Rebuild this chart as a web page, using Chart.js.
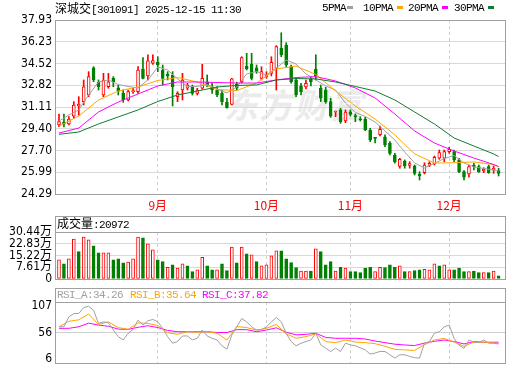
<!DOCTYPE html>
<html>
<head>
<meta charset="utf-8">
<title>深城交 301091</title>
<script src="https://cdn.jsdelivr.net/npm/chart.js@4.4.1/dist/chart.umd.min.js"></script>
<style>
  html, body { margin: 0; padding: 0; background: #fff; }
  #wrap { position: relative; width: 520px; height: 365px; overflow: hidden; }
  canvas { position: absolute; left: 0; }
  .txt { position: absolute; white-space: nowrap; font-family: "Liberation Mono", monospace; font-size: 11px;
         letter-spacing: -0.6px; line-height: 14px; color: #000; }
  .txt b { font-weight: normal; font-family: "Noto Sans CJK SC", sans-serif; font-size: 12px; letter-spacing: 0; }
  .mk { position: absolute; width: 6px; height: 3px; }
  #wm { position: absolute; left: 224px; top: 84px; font-family: "Noto Sans CJK SC", sans-serif; font-size: 34px;
        line-height: 40px; font-weight: bold; font-style: italic; color: #ebebeb; letter-spacing: 1px; }
</style>
</head>
<body>
<div id="wrap">
  <div id="wm">东方财富</div>
  <canvas id="kline" width="520" height="215" style="top:0"></canvas>
  <canvas id="vol" width="520" height="70" style="top:214px"></canvas>
  <canvas id="rsi" width="520" height="78" style="top:287px"></canvas>

  <div class="txt" style="left:55px;top:1px"><b>深城交</b>[301091] 2025-12-15 11:30</div>
  <div class="txt" style="left:322px;top:1px">5PMA</div><div class="mk" style="left:347px;top:6px;background:#a0a0a0"></div>
  <div class="txt" style="left:363px;top:1px">10PMA</div><div class="mk" style="left:397px;top:6px;background:#ffa500"></div>
  <div class="txt" style="left:408px;top:1px">20PMA</div><div class="mk" style="left:442px;top:6px;background:#ff00ff"></div>
  <div class="txt" style="left:454px;top:1px">30PMA</div><div class="mk" style="left:488px;top:6px;background:#127a33"></div>

  <div class="txt" style="left:57px;top:216px"><b>成交量</b>:20972</div>
  <div class="txt" style="left:57px;top:288px;color:#a0a0a0">RSI_A:34.26</div>
  <div class="txt" style="left:130px;top:288px;color:#ffa500">RSI_B:35.64</div>
  <div class="txt" style="left:202px;top:288px;color:#ff00ff">RSI_C:37.82</div>
</div>

<script>
// daily candles, 2025-08-04 .. 2025-12-15
const open = [29.70, 29.93, 29.78, 30.40, 31.19, 31.53, 32.05, 34.19, 33.05, 32.05,
              32.70, 33.36, 32.62, 32.18, 31.66, 32.31, 32.31, 34.09, 33.54, 34.55,
              34.64, 34.01, 33.67, 33.62, 31.92, 32.44, 32.58, 32.70, 32.18, 32.58,
              33.09, 32.70, 32.44, 32.18, 31.48, 31.32, 32.89, 33.09, 34.32, 34.46,
              34.19, 33.36, 33.49, 33.75, 34.14, 35.71, 35.97, 34.27, 33.23, 32.76,
              32.68, 33.28, 34.07, 32.58, 32.44, 31.53, 30.72, 30.88, 30.01, 30.74,
              30.44, 30.19, 30.17, 29.31, 28.74, 28.95, 28.78, 28.29, 27.35, 26.46,
              26.88, 26.54, 26.49, 25.86, 25.96, 26.54, 26.64, 27.09, 27.09, 27.61,
              27.61, 26.96, 26.04, 25.86, 26.54, 26.43, 26.09, 26.43, 26.17, 26.12];
const high = [30.56, 30.56, 30.35, 31.53, 31.92, 33.23, 33.88, 34.27, 33.23, 33.75,
              33.75, 33.49, 32.83, 32.44, 32.44, 32.58, 34.27, 34.98, 35.19, 35.19,
              35.05, 34.40, 33.88, 33.88, 32.31, 33.75, 32.97, 32.83, 32.58, 34.46,
              33.62, 32.97, 32.70, 32.44, 31.79, 33.36, 33.05, 35.05, 35.32, 35.32,
              34.40, 34.27, 33.88, 35.05, 35.92, 36.93, 36.15, 34.40, 33.36, 32.97,
              33.23, 33.49, 35.19, 32.83, 32.65, 31.79, 30.80, 31.01, 30.88, 30.88,
              30.56, 30.35, 30.30, 29.44, 28.74, 29.62, 28.92, 28.39, 27.48, 27.09,
              26.96, 26.82, 26.56, 26.04, 26.74, 26.82, 27.27, 27.74, 27.74, 27.95,
              27.74, 27.09, 26.12, 26.56, 26.70, 26.56, 26.35, 26.56, 26.49, 26.31];
const low = [29.57, 29.54, 29.70, 30.22, 30.48, 31.27, 31.92, 33.09, 32.44, 31.92,
             32.58, 32.70, 32.05, 31.48, 31.58, 32.18, 32.18, 33.31, 33.23, 34.45,
             33.88, 32.83, 33.23, 31.19, 31.53, 31.66, 32.44, 32.05, 32.05, 32.50,
             32.70, 32.18, 31.92, 31.27, 31.01, 31.27, 32.44, 33.00, 34.01, 33.23,
             33.75, 33.23, 33.36, 33.54, 32.44, 35.05, 34.27, 32.97, 31.92, 32.05,
             32.52, 32.76, 33.23, 31.53, 31.40, 30.30, 30.35, 29.83, 29.88, 30.40,
             29.96, 30.01, 29.25, 28.39, 28.29, 28.84, 28.00, 27.35, 26.70, 26.31,
             26.31, 26.31, 25.78, 25.39, 25.86, 26.43, 26.56, 27.01, 26.82, 27.48,
             26.82, 25.96, 25.39, 25.60, 26.17, 25.98, 25.96, 25.91, 25.91, 25.70];
const close = [29.96, 29.78, 30.17, 31.27, 31.32, 32.70, 33.49, 33.23, 32.70, 33.23,
               33.09, 33.09, 32.36, 31.66, 32.31, 32.39, 34.01, 33.36, 34.72, 34.74,
               34.40, 33.36, 33.54, 32.70, 32.18, 33.23, 32.83, 32.18, 32.44, 33.36,
               32.83, 32.44, 32.05, 31.53, 31.06, 33.31, 32.58, 34.98, 34.09, 33.36,
               33.88, 33.88, 33.62, 34.61, 35.84, 35.19, 34.40, 33.09, 32.05, 32.31,
               32.97, 33.09, 33.54, 31.83, 31.53, 30.40, 30.78, 29.96, 30.72, 30.52,
               30.33, 30.11, 29.33, 28.52, 28.64, 29.35, 28.13, 27.48, 26.80, 27.01,
               26.49, 26.68, 25.91, 25.70, 26.56, 26.70, 27.17, 27.53, 27.61, 27.79,
               26.96, 26.04, 25.60, 26.43, 26.43, 26.04, 26.25, 25.96, 26.31, 25.91];

// volume in 万, and whether the bar is drawn as an up (red) bar
const vol = [12.4, 9.8, 13.0, 25.9, 17.8, 27.2, 25.4, 21.5, 16.9, 16.9,
             16.9, 12.4, 13.0, 10.4, 10.9, 13.0, 27.2, 26.7, 22.8, 18.9,
             12.4, 11.3, 7.6, 9.1, 7.0, 9.8, 8.5, 4.8, 5.9, 14.1,
             8.5, 5.9, 5.9, 9.8, 5.4, 20.6, 10.4, 20.6, 16.3, 15.6,
             11.3, 8.5, 9.1, 15.0, 18.3, 18.3, 13.0, 10.6, 7.4, 5.2,
             5.2, 5.2, 19.6, 17.8, 9.1, 11.3, 5.2, 7.6, 7.0, 4.8,
             4.8, 4.1, 7.0, 7.6, 4.8, 7.6, 7.4, 9.1, 7.6, 8.5,
             4.8, 4.8, 5.4, 5.9, 6.3, 5.9, 9.8, 8.5, 9.1, 5.9,
             5.9, 7.0, 4.8, 4.8, 5.2, 4.1, 4.1, 4.1, 5.2, 2.0];
const volUp = [1,0,1,1,0,1,1,0,0,1, 1,0,0,0,1,1,1,0,1,1, 0,0,1,0,1,1,0,0,1,1,
               0,0,1,0,0,1,0,1,0,1, 0,1,1,1,1,0,0,0,0,1, 1,0,1,0,0,0,1,0,1,0,
               0,0,0,0,1,1,0,0,0,1, 0,1,0,0,1,1,1,0,1,1, 0,0,0,1,0,0,1,0,1,0];

// moving averages, read at these candle indices
const idx2 = [0,2,4,6,8,10,12,14,16,18,20,22,24,26,28,30,32,34,36,38,40,42,44,
              46,48,50,52,54,56,58,60,62,64,66,68,70,72,74,76,78,80,82,84,86,88,89];
const idx4 = [0,4,8,12,16,20,24,28,32,36,40,44,48,52,56,60,64,68,72,76,80,84,88,89];
const ma5 = [30.01, 30.48, 30.88, 32.05, 33.07, 33.23, 32.87, 32.72, 32.60, 33.23, 34.25, 34.01,
             33.31, 32.72, 32.72, 32.87, 32.52, 32.21, 32.68, 33.70, 33.89, 33.62, 34.17, 34.79,
             34.48, 33.70, 33.23, 32.76, 32.44, 31.42, 30.68, 30.37, 29.93, 29.23, 28.52, 27.58,
             26.72, 26.33, 26.68, 27.07, 27.31, 26.72, 26.41, 26.29, 26.17, 26.09];
const ma10 = [29.62, 30.40, 31.66, 32.36, 32.68, 33.19, 33.42, 33.07, 32.48, 32.40, 32.99, 34.09,
              34.32, 33.66, 32.36, 31.19, 30.17, 28.92, 27.43, 26.72, 26.74, 26.80, 26.60, 26.41];
const ma20 = [29.07, 29.46, 30.72, 31.50, 32.13, 32.76, 33.07, 33.07, 33.03, 32.99, 32.99, 33.23,
              33.42, 33.49, 33.15, 32.60, 31.82, 30.56, 29.23, 28.29, 27.66, 27.11, 26.60, 26.45];
const ma30 = [28.97, 29.15, 29.78, 30.33, 30.88, 31.54, 32.05, 32.36, 32.68, 32.80, 32.84, 33.23,
              33.34, 33.31, 33.07, 32.72, 32.36, 31.66, 30.72, 29.78, 28.68, 28.05, 27.43, 27.23];

// RSI: A for every candle, B and C at idx2
const rsiA = [67.5, 67.5, 86.6, 93, 93, 104.5, 107, 99.4, 74, 77,
              75.2, 61.3, 48.5, 42.2, 55, 62.6, 80.3, 70.8, 79, 81.6,
              77, 64.5, 48.5, 35.9, 39, 49.8, 49.8, 42.2, 45.4, 61.3,
              49.8, 45.4, 42.2, 30.8, 24.5, 51.7, 67.5, 83.5, 77, 67.5,
              61.3, 62, 67.5, 77, 85.4, 77, 55, 39, 30.8, 35.9,
              39, 42.2, 55, 32.7, 26.4, 19.9, 26.4, 19.9, 35.9, 32.7,
              31, 27, 23.1, 15, 16.9, 20, 20, 13.6, 7.3, 13.6,
              13.6, 10.4, 8, 7.3, 35.9, 39, 55, 58, 67.5, 70.8,
              45, 32, 26, 42, 38, 37, 42, 36, 35.9, 34.26];
const rsiB = [67.5, 78, 81, 92, 72, 77, 66, 62.6, 75, 74, 70, 56, 53, 58, 57, 58, 55, 42, 68, 66, 61, 64.5, 72,
              54, 45.4, 48.5, 54, 39, 37, 42, 38, 37, 35, 30, 24, 23, 22, 33, 42, 45, 38, 30, 38, 38, 36, 35.64];
const rsiC = [64.5, 64.5, 67.5, 74.5, 70.8, 68.5, 63, 62.5, 66.5, 69.5, 66, 60.5, 58, 58, 58, 58, 56.5, 56.5, 62, 62, 58, 61.3, 65.5,
              57, 52, 53, 55, 47, 45.4, 45.4, 45.4, 44, 40, 37, 34, 32.5, 31.4, 36, 39.5, 42, 39, 34.5, 39, 37.7, 37.8, 37.82];

const monthIdx = [20, 42, 59, 79];
const monthLabels = ["9月", "10月", "11月", "12月"];
const priceTicks = [24.29, 25.99, 27.70, 29.40, 31.11, 32.82, 34.52, 36.23, 37.93];
const volTicks = [0, 7.61, 15.22, 22.83, 30.44];
const rsiTicks = [6, 56, 107];

const RED = "#ff0000", GREEN = "#008000";
const C5 = "#a0a0a0", C10 = "#ffa500", C20 = "#ff00ff", C30 = "#127a33";
const labelFont = { family: '"DejaVu Sans Condensed", "Liberation Sans", "Noto Sans CJK SC", sans-serif', size: 12 };

const up = i => close[i] >= open[i];
const pts = (xs, ys) => xs.map((x, k) => ({ x: x, y: ys[k] }));
const line = (data, color) => ({
    type: "line", data: data, borderColor: color, borderWidth: 1,
    pointRadius: 0, tension: 0, fill: false, order: 0
});

// outline of the plot area (and the header strip above it)
const frame = {
    id: "frame",
    afterDraw(chart, args, opts) {
        const { ctx, chartArea: a } = chart;
        const p = v => Math.round(v) + 0.5;
        const top = opts.headerTop != null ? opts.headerTop : a.top;
        ctx.save();
        ctx.strokeStyle = "#a0a0a0";
        ctx.lineWidth = 1;
        ctx.strokeRect(p(a.left), p(top), p(a.right) - p(a.left), p(a.bottom) - p(top));
        if (opts.headerTop != null) {
            ctx.beginPath();
            ctx.moveTo(p(a.left), p(a.top));
            ctx.lineTo(p(a.right), p(a.top));
            ctx.stroke();
        }
        ctx.restore();
    }
};

const xAxis = (h, labels) => ({
    type: "linear", min: -0.81, max: 90.3, offset: false,
    afterBuildTicks: s => { s.ticks = monthIdx.map(v => ({ value: v })); },
    afterFit: s => { s.height = h; s.paddingLeft = 0; s.paddingRight = 0; },
    grid: { color: "#cfcfcf", drawTicks: false, offset: false },
    border: { display: false, dash: [3, 3] },
    ticks: {
        display: labels, autoSkip: false, maxRotation: 0, padding: 4, color: RED,
        font: { family: '"Noto Sans CJK SC", sans-serif', size: 12 },
        callback: v => monthLabels[monthIdx.indexOf(v)]
    }
});

const yAxis = (min, max, ticks, fmt, gridColor) => ({
    type: "linear", min: min, max: max, beginAtZero: false,
    afterBuildTicks: s => { s.ticks = ticks.map(v => ({ value: v })); },
    afterFit: s => { s.width = 55; s.paddingTop = 0; s.paddingBottom = 0; },
    grid: { color: gridColor, drawTicks: false },
    border: { display: false },
    ticks: { autoSkip: false, padding: 3, color: "#000", font: labelFont, callback: fmt }
});

const base = (padTop) => ({
    responsive: false, animation: false, devicePixelRatio: 1, events: [],
    layout: { padding: { top: padTop, right: 15, left: 0, bottom: 0 } }
});

// price panel
new Chart(document.getElementById("kline"), {
    type: "bar",
    data: {
        datasets: [
            {
                type: "bar", data: low.map((l, i) => ({ x: i, y: [l, high[i]] })),
                backgroundColor: low.map((_, i) => up(i) ? RED : GREEN),
                borderWidth: 0, barThickness: 1, grouped: false, order: 3
            },
            {
                type: "bar", data: open.map((o, i) => ({ x: i, y: [o, close[i]] })),
                backgroundColor: open.map((_, i) => up(i) ? "#fff" : GREEN),
                borderColor: open.map((_, i) => up(i) ? RED : GREEN),
                borderWidth: 1, borderSkipped: false, barThickness: 3, minBarLength: 1,
                grouped: false, order: 2
            },
            line(pts(idx4, ma30), C30),
            line(pts(idx4, ma20), C20),
            line(pts(idx4, ma10), C10),
            line(pts(idx2, ma5), C5)
        ]
    },
    options: {
        ...base(20),
        plugins: { legend: { display: false }, tooltip: { enabled: false }, frame: {} },
        scales: {
            x: xAxis(21, true),
            y: yAxis(24.29, 37.93, priceTicks, v => v.toFixed(2), "#d9d9d9")
        }
    },
    plugins: [frame]
});

// volume panel
new Chart(document.getElementById("vol"), {
    type: "bar",
    data: {
        datasets: [{
            data: vol.map((v, i) => ({ x: i, y: v })),
            backgroundColor: volUp.map(u => u ? "#fff" : GREEN),
            borderColor: volUp.map(u => u ? RED : GREEN),
            borderWidth: 1, borderSkipped: false, barThickness: 3, grouped: false
        }]
    },
    options: {
        ...base(18),
        plugins: { legend: { display: false }, tooltip: { enabled: false }, frame: { headerTop: 1.5 } },
        scales: {
            x: xAxis(5, false),
            y: yAxis(0, 30.44, volTicks, v => v === 0 ? "0" : v.toFixed(2) + "万", "#d9d9d9")
        }
    },
    plugins: [frame]
});

// RSI panel
new Chart(document.getElementById("rsi"), {
    type: "line",
    data: {
        datasets: [
            line(rsiA.map((v, i) => ({ x: i, y: v })), C5),
            line(pts(idx2, rsiB), C10),
            line(pts(idx2, rsiC), C20)
        ]
    },
    options: {
        ...base(15),
        plugins: { legend: { display: false }, tooltip: { enabled: false }, frame: { headerTop: 1 } },
        scales: {
            x: xAxis(2, false),
            y: yAxis(-2.2, 115.2, rsiTicks, v => String(v),
                     c => c.tick && c.tick.value === 56 ? "#d0d0d0" : "rgba(0,0,0,0)")
        }
    },
    plugins: [frame]
});
</script>
</body>
</html>
